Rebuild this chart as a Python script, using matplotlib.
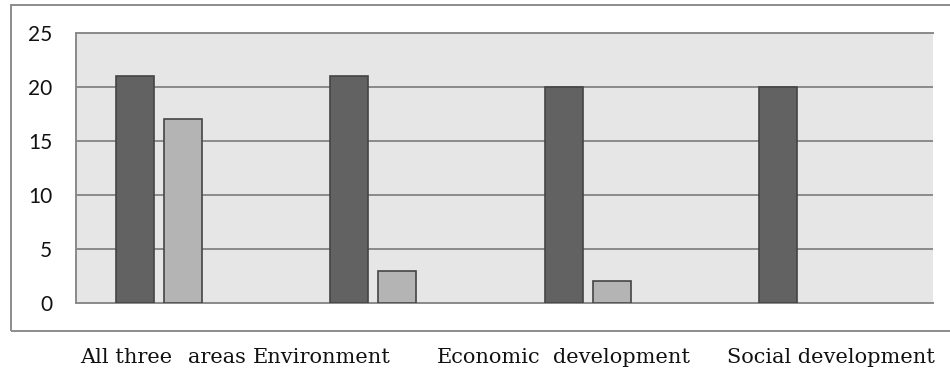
import matplotlib
matplotlib.use("Agg")
import numpy as np
import matplotlib.pyplot as plt
from matplotlib.patches import Rectangle

categories = ["All three areas", "Environment", "Economic development", "Social development"]
series_a = [21, 21, 20, 20]
series_b = [17, 3, 2, 0]
yticks = [0, 5, 10, 15, 20, 25]

W, H = 950, 373
fig = plt.figure(figsize=(W / 100, H / 100), dpi=100)
fig.patch.set_facecolor("white")

# plot area in pixel units -> figure fractions
left, right, top, bottom = 76, 933, 33, 303
ax = fig.add_axes([left / W, 1 - bottom / H, (right - left) / W, (bottom - top) / H])
ax.set_facecolor("#e6e6e6")

x = np.arange(len(categories))
bw = 38 / 214.25
off = 48 / 214.25
edge = "#454545"
for xi, va, vb in zip(x, series_a, series_b):
    if va > 0:
        ax.bar(xi - off, va, bw, color="#626262", edgecolor=edge, linewidth=1.2, zorder=3)
    if vb > 0:
        ax.bar(xi, vb, bw, color="#b4b4b4", edgecolor=edge, linewidth=1.2, zorder=3)

ax.set_xlim(-0.5, len(categories) - 0.5)
ax.set_ylim(0, 25)
ax.set_yticks(yticks)
ax.set_xticks([])
ax.grid(axis="y", color="#8a8a8a", linewidth=1.4, zorder=1)
ax.tick_params(axis="y", length=0, pad=17, labelsize=15, labelcolor="#111111")
for lab in ax.get_yticklabels():
    lab.set_family("Lato")
ax.spines["right"].set_visible(False)
for s in ["left", "top", "bottom"]:
    ax.spines[s].set_color("#8a8a8a")
    ax.spines[s].set_linewidth(1.4)

# outer frame
fig.patches.append(Rectangle((11 / W, 1 - 331 / H), 1.0, (331 - 5) / H,
                             transform=fig.transFigure, fill=False,
                             edgecolor="#8c8c8c", linewidth=1.4))

# category names typed underneath the frame
parts = ["All three", "areas", categories[1], "Economic", "development", categories[3]]
part_x = [80, 188, 253, 437, 553, 727]
for p, px in zip(parts, part_x):
    fig.text(px / W, 1 - 363 / H, p, ha="left", va="baseline",
             family="DejaVu Serif", fontsize=15, color="#111111")

fig.savefig("out.png", dpi=100)
